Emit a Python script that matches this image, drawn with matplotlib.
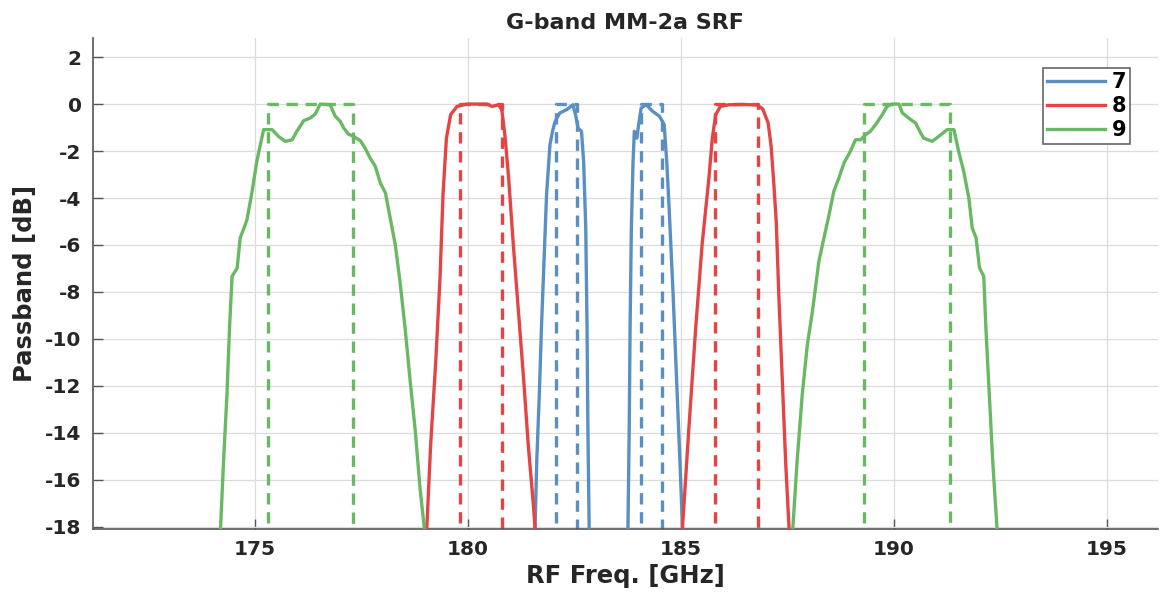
import numpy as np
from matplotlib import pyplot as plt

# G-band MM-2a channels around the 183.31 GHz water line
f_center = 183.31
channels = ["7", "8", "9"]
ch_offset = [1.0, 3.0, 7.0]     # GHz from line centre
ch_width = [0.5, 1.0, 2.0]      # GHz, nominal bandwidth
colors = ["#5a8fc1", "#e34545", "#69b964"]

# measured passband, lower / upper sideband (freq GHz, dB)
ch7_lo_f = [181.58, 181.62, 181.68, 181.73, 181.79, 181.85, 181.93, 181.99, 182.05,
            182.16, 182.32, 182.47, 182.53, 182.59, 182.67, 182.72, 182.77, 182.80,
            182.82, 182.85]
ch7_lo_db = [-18.04, -15.2, -12.37, -9.53, -6.70, -3.86, -1.73, -1.16, -0.74,
             -0.38, -0.24, -0.03, -0.45, -1.02, -1.16, -2.44, -5.28, -9.53,
             -13.79, -18.04]
ch7_hi_f = [183.76, 183.79, 183.81, 183.84, 183.88, 183.91, 183.97, 184.01, 184.07,
            184.19, 184.34, 184.50, 184.61, 184.67, 184.73, 184.82, 184.90, 184.98,
            185.04]
ch7_hi_db = [-18.04, -13.79, -9.53, -5.28, -2.44, -1.16, -1.45, -0.88, -0.17,
             -0.03, -0.31, -0.52, -0.88, -2.44, -4.57, -8.11, -11.66, -15.2,
             -18.04]

ch8_lo_f = [179.04, 179.13, 179.25, 179.35, 179.42, 179.50, 179.60, 179.75, 179.98,
            180.45, 180.57, 180.72, 180.80, 180.88, 180.96, 181.07, 181.19, 181.31,
            181.42, 181.54, 181.58]
ch8_lo_db = [-18.04, -14.5, -10.95, -7.40, -3.86, -1.45, -0.45, -0.10, 0.0,
             0.0, -0.10, -0.03, -0.24, -1.45, -3.15, -5.99, -8.82, -11.66,
             -14.50, -17.05, -18.04]
ch8_hi_f = [185.04, 185.19, 185.35, 185.50, 185.66, 185.74, 185.82, 185.93, 186.13,
            186.50, 186.78, 186.92, 187.05, 187.12, 187.18, 187.24, 187.30, 187.38,
            187.46, 187.54]
ch8_hi_db = [-18.04, -13.79, -9.53, -5.99, -3.15, -1.45, -0.45, -0.10, -0.03,
             -0.02, -0.04, -0.20, -0.80, -1.80, -3.30, -5.00, -8.11, -11.66,
             -15.2, -18.04]

ch9_lo_f = [174.20, 174.27, 174.35, 174.41, 174.47, 174.59, 174.66, 174.72, 174.82,
            174.94, 175.05, 175.21, 175.29, 175.41, 175.56, 175.72, 175.88, 175.99,
            176.15, 176.30, 176.42, 176.54, 176.77, 176.89, 177.01, 177.09, 177.20,
            177.32, 177.48, 177.59, 177.71, 177.83, 177.95, 178.07, 178.18, 178.30,
            178.41, 178.53, 178.65, 178.77, 178.88, 178.98]
ch9_lo_db = [-18.04, -15.2, -12.37, -9.53, -7.33, -6.98, -5.70, -5.42, -4.92,
             -3.72, -2.44, -1.09, -1.09, -1.09, -1.38, -1.59, -1.52, -1.16,
             -0.71, -0.60, -0.43, 0.0, -0.03, -0.52, -0.74, -1.02, -1.28,
             -1.38, -1.56, -1.87, -2.30, -2.65, -3.36, -3.79, -4.85, -5.99,
             -7.55, -9.53, -11.80, -13.93, -16.34, -18.04]
ch9_hi_f = [187.63, 187.73, 187.85, 187.97, 188.09, 188.24, 188.36, 188.48, 188.59,
            188.71, 188.83, 188.98, 189.10, 189.22, 189.34, 189.45, 189.57, 189.73,
            189.84, 189.96, 190.12, 190.20, 190.35, 190.51, 190.63, 190.70, 190.90,
            191.05, 191.25, 191.41, 191.52, 191.64, 191.76, 191.84, 191.93, 192.01,
            192.11, 192.16, 192.24, 192.32, 192.42]
ch9_hi_db = [-18.04, -15.2, -12.37, -10.24, -8.82, -6.70, -5.70, -4.71, -3.72,
             -3.15, -2.51, -2.01, -1.52, -1.52, -1.30, -1.16, -0.88, -0.45,
             -0.10, 0.0, 0.0, -0.38, -0.60, -0.81, -1.23, -1.45, -1.59,
             -1.38, -1.09, -1.09, -2.01, -2.87, -4.00, -5.28, -5.70, -6.98,
             -7.33, -9.53, -12.37, -15.2, -18.04]

curves = [[(ch7_lo_f, ch7_lo_db), (ch7_hi_f, ch7_hi_db)],
          [(ch8_lo_f, ch8_lo_db), (ch8_hi_f, ch8_hi_db)],
          [(ch9_lo_f, ch9_lo_db), (ch9_hi_f, ch9_hi_db)]]

txt = "#262626"
plt.rcParams['font.family'] = 'DejaVu Sans'
plt.rcParams['font.weight'] = 'bold'
plt.rcParams['axes.unicode_minus'] = False

fig = plt.figure(figsize=(11.62, 5.98), dpi=100)
ax = fig.add_axes([0.0798, 0.115, 0.9168, 0.821])

for i in range(3):
    for k, (f, db) in enumerate(curves[i]):
        ax.plot(f, db, '-', color=colors[i], linewidth=2.4,
                label=channels[i] if k == 0 else None, zorder=3)
    # ideal (nominal) passbands as dashed boxes
    for sign in (-1, 1):
        mid = f_center + sign * ch_offset[i]
        lo, hi = mid - ch_width[i] / 2, mid + ch_width[i] / 2
        ax.plot([lo, lo, hi, hi], [-30, 0, 0, -30], '--', color=colors[i],
                linewidth=2.4, dashes=(3.4, 2.3), zorder=2)

ax.set_xlim(171.2, 196.2)
ax.set_ylim(-18.1, 2.8)
ax.set_xticks([175, 180, 185, 190, 195])
ax.set_yticks(np.arange(-18, 3, 2))
ax.grid(True, color="#dcdcdc", linewidth=0.9)
ax.set_axisbelow(True)
for s in ['top', 'right']:
    ax.spines[s].set_visible(False)
for s in ['left', 'bottom']:
    ax.spines[s].set_color("#555555")
    ax.spines[s].set_linewidth(1.2)
ax.tick_params(direction='in', length=7, width=1.0, colors="#555555",
               labelcolor=txt, labelsize=14.5, pad=8)
for lab in ax.get_xticklabels() + ax.get_yticklabels():
    lab.set_fontweight('bold')

ax.set_xlabel("RF Freq. [GHz]", fontsize=17.5, fontweight='bold', color=txt, labelpad=3)
ax.set_ylabel("Passband [dB]", fontsize=17.5, fontweight='bold', color=txt, labelpad=6)
ax.set_title("G-band MM-2a SRF", fontsize=16, fontweight='bold', color=txt, pad=7)

leg = ax.legend(loc='upper right', bbox_to_anchor=(0.974, 0.94), fontsize=15,
                handlelength=2.8, handletextpad=0.3, borderpad=0.2,
                labelspacing=0.2, borderaxespad=0, fancybox=False, framealpha=1)
leg.get_frame().set_edgecolor("#666666")
leg.get_frame().set_linewidth(1.2)
for t in leg.get_texts():
    t.set_fontweight('bold')
    t.set_color("black")

fig.savefig("out.png", dpi=100)
